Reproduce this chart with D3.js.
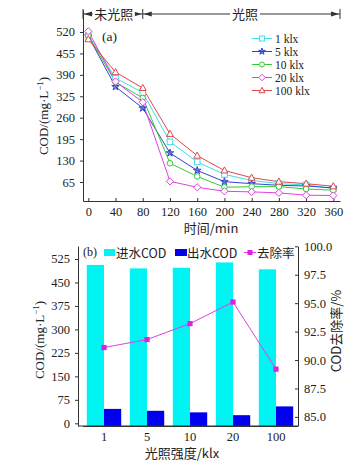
<!DOCTYPE html>
<html><head><meta charset="utf-8">
<script src="https://cdn.jsdelivr.net/npm/d3@7"></script>
<style>
body{margin:0;background:#fff;}
text{font-family:"Liberation Serif","Times New Roman",serif;fill:#222;}
.cjk{font-family:"Noto Sans CJK SC",sans-serif;}
</style></head>
<body>
<svg id="c" width="364" height="465"></svg>
<script>
// ---- Chart (a) data ----
const times = [0, 40, 80, 120, 160, 200, 240, 280, 320, 360];
const seriesNames = ["1 klx", "5 klx", "10 klx", "20 klx", "100 klx"];
const cod1 = [512, 380, 336, 187, 126, 88, 70, 60, 56, 45];
const cod5 = [507, 354, 289, 153, 100, 66, 60, 55, 53, 47];
const cod10 = [509, 368, 320, 122, 82, 49, 51, 51, 44, 40];
const cod20 = [522, 370, 307, 67, 49, 37, 35, 32, 25, 24];
const cod100 = [498, 398, 350, 211, 145, 100, 78, 66, 60, 52];
const yTicksA = [65, 130, 195, 260, 325, 390, 455, 520];
const xTicksA = [0, 40, 80, 120, 160, 200, 240, 280, 320, 360];
const colorsA = ["#3ee0e8", "#3344cc", "#33cc33", "#e040e0", "#e04848"];
const markersA = ["square", "star", "circle", "diamond", "triangle"];

// ---- Chart (b) data ----
const intensities = ["1", "5", "10", "20", "100"];
const influent = [506, 495, 497, 514, 492];
const effluent = [46, 40, 35, 26, 54];
const removal = [91.1, 91.8, 93.2, 95.1, 89.2];
const yTicksL = [0, 75, 150, 225, 300, 375, 450, 525];
const yTicksR = [85.0, 87.5, 90.0, 92.5, 95.0, 97.5, 100.0];

const svg = d3.select("#c");

// ================= Chart (a) =================
const xA = d3.scaleLinear().domain([-7.8, 369.8]).range([83, 340]);
const yA = d3.scaleLinear().domain([7.4, 586.7]).range([201, 10]);
const gA = svg.append("g");

gA.append("g").attr("transform", "translate(0,201)")
  .call(d3.axisBottom(xA).tickValues(xTicksA).tickSize(-3).tickPadding(6).tickSizeOuter(0))
  .call(g => { g.select(".domain").attr("stroke", "#333"); g.selectAll("line").attr("stroke", "#333");
    g.selectAll("text").attr("font-size", 12.5).attr("font-family", "Liberation Serif").attr("fill", "#222"); });
gA.append("g").attr("transform", "translate(83,0)")
  .call(d3.axisLeft(yA).tickValues(yTicksA).tickSize(3).tickPadding(5).tickSizeOuter(0))
  .call(g => { g.select(".domain").attr("stroke", "#333"); g.selectAll("line").attr("stroke", "#333");
    g.selectAll("text").attr("font-size", 12.5).attr("font-family", "Liberation Serif").attr("fill", "#222"); });

// top annotation
const ann = gA.append("g").attr("stroke", "#333").attr("fill", "#333");
const xs0 = 83, xsMid = xA(80), xsEnd = 340, ya = 14;
ann.append("line").attr("x1", xs0).attr("x2", xsEnd).attr("y1", ya).attr("y2", ya).attr("stroke-width", 1);
[xs0, xsMid, xsEnd].forEach(x => ann.append("line").attr("x1", x).attr("x2", x).attr("y1", ya - 5).attr("y2", ya + 5));
function arrow(x, dir) {
  ann.append("path").attr("stroke", "none")
    .attr("d", `M${x},${ya} L${x + dir * 8},${ya - 2.5} L${x + dir * 8},${ya + 2.5}Z`);
}
arrow(xs0 + 1, 1); arrow(xsMid - 1, -1); arrow(xsMid + 1, 1); arrow(xsEnd - 1, -1);
function annText(x, t, w) {
  gA.append("rect").attr("x", x - w / 2).attr("y", ya - 8).attr("width", w).attr("height", 16).attr("fill", "#fff");
  gA.append("text").attr("class", "cjk").attr("x", x).attr("y", ya + 4.5).attr("text-anchor", "middle")
    .attr("font-size", 13).text(t);
}
annText((xs0 + xsMid) / 2 + 1, "未光照", 42);
annText(245, "光照", 30);

gA.append("text").attr("x", 102).attr("y", 41).attr("font-size", 13.5).text("(a)");

const allA = [cod1, cod5, cod10, cod20, cod100];
const lineA = d3.line().x((d, i) => xA(times[i])).y(d => yA(d));
function marker(g, type, x, y, color, s) {
  let el;
  if (type === "square") el = g.append("rect").attr("x", x - s).attr("y", y - s).attr("width", 2 * s).attr("height", 2 * s);
  else if (type === "circle") el = g.append("circle").attr("cx", x).attr("cy", y).attr("r", s);
  else if (type === "diamond") el = g.append("path").attr("d", `M${x},${y - s * 1.3}L${x + s * 1.3},${y}L${x},${y + s * 1.3}L${x - s * 1.3},${y}Z`);
  else if (type === "triangle") el = g.append("path").attr("d", `M${x},${y - s * 1.3}L${x + s * 1.2},${y + s * 0.9}L${x - s * 1.2},${y + s * 0.9}Z`);
  else el = g.append("path").attr("d", d3.symbol().type(d3.symbolStar).size(s * s * 2.2)()).attr("transform", `translate(${x},${y})`);
  el.attr("fill", type === "star" ? color : "#fff").attr("fill-opacity", type === "star" ? 0.55 : 1).attr("stroke", color).attr("stroke-width", 1);
}
allA.forEach((arr, k) => {
  gA.append("path").datum(arr).attr("d", lineA).attr("fill", "none").attr("stroke", colorsA[k]).attr("stroke-width", 1);
});
allA.forEach((arr, k) => {
  arr.forEach((v, i) => marker(gA, markersA[k], xA(times[i]), yA(v), colorsA[k], 2.8));
});

seriesNames.forEach((n, k) => {
  const ly = 38.5 + k * 13;
  gA.append("line").attr("x1", 252).attr("x2", 272).attr("y1", ly).attr("y2", ly).attr("stroke", colorsA[k]);
  marker(gA, markersA[k], 262, ly, colorsA[k], 2.5);
  gA.append("text").attr("x", 275).attr("y", ly + 4).attr("font-size", 11.5).text(n);
});

const yl = gA.append("text").attr("transform", "translate(48,116) rotate(-90)").attr("text-anchor", "middle").attr("font-size", 13);
yl.append("tspan").text("COD/(mg·L");
yl.append("tspan").attr("dy", -5).attr("font-size", 9).text("−1");
yl.append("tspan").attr("dy", 5).text(")");
gA.append("text").attr("class", "cjk").attr("x", 211).attr("y", 233).attr("text-anchor", "middle").attr("font-size", 13)
  .text("时间/min");

// ================= Chart (b) =================
const gB = svg.append("g");
const xB = d3.scaleBand().domain(intensities).range([82.5, 297.5]).paddingInner(0.2).paddingOuter(0.1);
const yL = d3.scaleLinear().domain([-8.6, 566.5]).range([426, 246]);
const yR = d3.scaleLinear().domain([84.2, 100]).range([426, 246.3]);
const bw = xB.bandwidth() / 2;

gB.selectAll(".inf").data(influent).enter().append("rect")
  .attr("x", (d, i) => xB(intensities[i])).attr("width", bw)
  .attr("y", d => yL(d)).attr("height", d => 426 - yL(d)).attr("fill", "#00f4f4");
gB.selectAll(".eff").data(effluent).enter().append("rect")
  .attr("x", (d, i) => xB(intensities[i]) + bw).attr("width", bw)
  .attr("y", d => yL(d)).attr("height", d => 426 - yL(d)).attr("fill", "#0000ee");

gB.append("g").attr("transform", "translate(0,426)")
  .call(d3.axisBottom(xB).tickSize(0).tickPadding(6))
  .call(g => { g.select(".domain").attr("stroke", "#333"); g.selectAll("text").attr("font-size", 12.5).attr("font-family", "Liberation Serif").attr("fill", "#222"); });
gB.append("line").attr("x1", 78).attr("x2", 298).attr("y1", 426).attr("y2", 426).attr("stroke", "#333");
gB.append("g").attr("transform", "translate(78,0)")
  .call(d3.axisLeft(yL).tickValues(yTicksL).tickSize(3).tickPadding(5).tickSizeOuter(0))
  .call(g => { g.select(".domain").attr("stroke", "#333"); g.selectAll("line").attr("stroke", "#333");
    g.selectAll("text").attr("font-size", 12.5).attr("font-family", "Liberation Serif").attr("fill", "#222"); });
gB.append("g").attr("transform", "translate(298,0)")
  .call(d3.axisRight(yR).tickValues(yTicksR).tickSize(-3).tickPadding(6).tickSizeOuter(0).tickFormat(d3.format(".1f")))
  .call(g => { g.select(".domain").attr("stroke", "#333"); g.selectAll("line").attr("stroke", "#333");
    g.selectAll("text").attr("font-size", 12.5).attr("font-family", "Liberation Serif").attr("fill", "#222"); });

const cx = i => xB(intensities[i]) + xB.bandwidth() / 2;
gB.append("path").datum(removal).attr("d", d3.line().x((d, i) => cx(i)).y(d => yR(d)))
  .attr("fill", "none").attr("stroke", "#e040e0").attr("stroke-width", 1);
gB.selectAll(".pt").data(removal).enter().append("rect")
  .attr("x", (d, i) => cx(i) - 2.6).attr("y", d => yR(d) - 2.6).attr("width", 5.2).attr("height", 5.2).attr("fill", "#e020e0");

gB.append("text").attr("x", 83).attr("y", 256).attr("font-size", 12).text("(b)");
gB.append("rect").attr("x", 104).attr("y", 249).attr("width", 11).attr("height", 7).attr("fill", "#00f4f4");
gB.append("text").attr("class", "cjk").attr("x", 116).attr("y", 258).attr("font-size", 12.5).text("进水COD");
gB.append("rect").attr("x", 175).attr("y", 249).attr("width", 12).attr("height", 7).attr("fill", "#0000ee");
gB.append("text").attr("class", "cjk").attr("x", 187).attr("y", 258).attr("font-size", 12.5).text("出水COD");
gB.append("line").attr("x1", 244).attr("x2", 256).attr("y1", 252.5).attr("y2", 252.5).attr("stroke", "#e040e0");
gB.append("rect").attr("x", 247.5).attr("y", 250).attr("width", 5).attr("height", 5).attr("fill", "#e020e0");
gB.append("text").attr("class", "cjk").attr("x", 257).attr("y", 258).attr("font-size", 12.5).text("去除率");

const yl2 = gB.append("text").attr("transform", "translate(44,340) rotate(-90)").attr("text-anchor", "middle").attr("font-size", 13);
yl2.append("tspan").text("COD/(mg·L");
yl2.append("tspan").attr("dy", -5).attr("font-size", 9).text("−1");
yl2.append("tspan").attr("dy", 5).text(")");
gB.append("text").attr("class", "cjk").attr("transform", "translate(341,331) rotate(-90)").attr("text-anchor", "middle")
  .attr("font-size", 13).text("COD去除率/%");
gB.append("text").attr("class", "cjk").attr("x", 182).attr("y", 458).attr("text-anchor", "middle").attr("font-size", 13)
  .text("光照强度/klx");
</script>
</body></html>
